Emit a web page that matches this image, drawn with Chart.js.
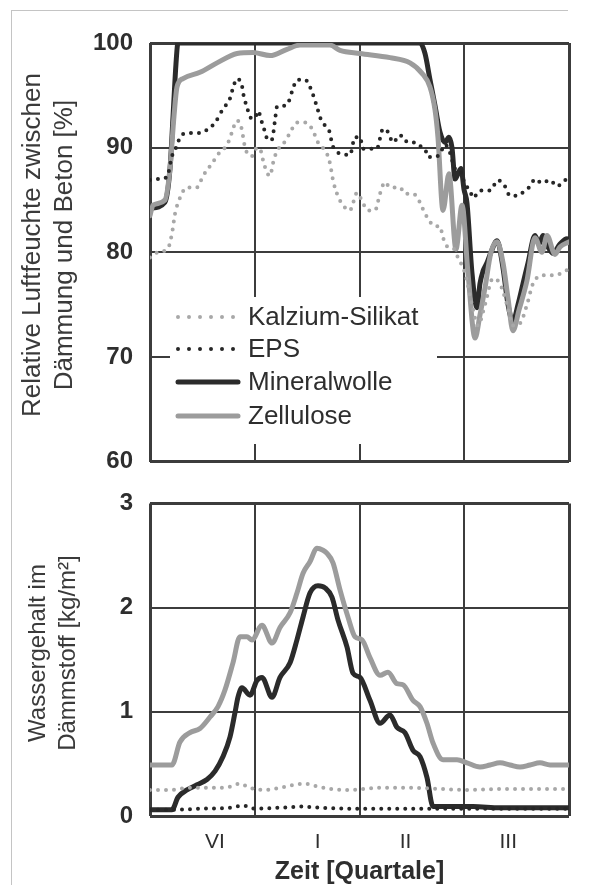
<!DOCTYPE html>
<html><head><meta charset="utf-8">
<script src="https://cdn.jsdelivr.net/npm/chart.js@4/dist/chart.umd.min.js"></script>
<style>
html,body{margin:0;padding:0;background:#fff;}
body{width:596px;height:885px;position:relative;overflow:hidden;}
#frame{position:absolute;left:11px;top:10px;width:556px;height:880px;border-left:1px solid #c4c4c4;border-top:1px solid #c4c4c4;}
canvas{position:absolute;left:0;}
#c1{top:0}
#c2{top:472px}
</style></head><body>
<div id="frame"></div>
<canvas id="c1" width="596" height="493"></canvas>
<canvas id="c2" width="596" height="413"></canvas>
<script>
// ---------- DATA ----------
const seriesNames = ['Kalzium-Silikat', 'EPS', 'Mineralwolle', 'Zellulose'];
const quarterLabels = ['VI', 'I', 'II', 'III'];
const quarterLabelAt = [0.62, 1.60, 2.44, 3.42];
const topYTicks = [60, 70, 80, 90, 100];
const bottomYTicks = [0, 1, 2, 3];

// Top panel: relative humidity [%]
const rhKalziumX = [0,.076,.172,.210,.239,.267,.353,.449,.506,.592,.668,.716,.764,.792,.831,.878,.897,.926,.974,1.021,1.050,1.079,1.117,1.146,1.174,1.212,1.260,1.308,1.356,1.403,1.480,1.547,1.604,1.690,1.718,1.747,1.785,1.842,1.909,1.938,1.976,2.033,2.081,2.148,2.196,2.243,2.291,2.387,2.434,2.501,2.549,2.597,2.654,2.721,2.768,2.797,2.845,2.893,2.940,3.007,3.074,3.131,3.198,3.274,3.341,3.408,3.465,3.532,3.599,3.656,3.752,3.866,3.981];
const rhKalziumY = [79.5,80.0,80.4,81.8,83.7,84.7,86.2,86.2,87.3,88.5,89.6,90.0,90.9,91.8,92.6,91.7,90.5,89.5,89.2,90.0,89.9,88.8,87.6,87.3,88.5,89.7,90.2,90.9,91.8,92.4,92.4,91.8,90.5,89.4,88.5,86.9,85.6,84.5,84.0,84.7,85.7,84.7,84.0,84.0,85.6,86.7,86.2,86.2,85.6,85.6,85.3,84.3,83.2,82.5,82.5,81.4,80.5,80.4,79.5,78.0,75.0,73.0,75.0,77.5,77.0,75.0,73.0,73.2,75.0,77.0,77.8,77.8,78.3];

const rhEpsX = [0,.076,.162,.210,.258,.286,.363,.477,.544,.621,.697,.764,.792,.831,.878,.897,.926,.955,1.002,1.031,1.069,1.098,1.126,1.165,1.193,1.212,1.289,1.337,1.365,1.413,1.480,1.527,1.594,1.623,1.671,1.718,1.737,1.785,1.842,1.909,1.957,2.005,2.033,2.167,2.196,2.224,2.272,2.320,2.387,2.434,2.501,2.549,2.625,2.654,2.721,2.768,2.816,2.864,2.912,2.959,3.007,3.055,3.084,3.150,3.246,3.322,3.389,3.437,3.504,3.580,3.628,3.675,3.742,3.819,3.885,3.962,4.0];
const rhEpsY = [86.9,87.0,87.2,89.2,90.2,91.0,91.4,91.4,91.7,92.4,93.7,94.7,95.7,96.6,95.9,94.8,93.9,92.9,92.8,93.5,92.4,91.5,90.7,90.8,92.6,93.9,94.0,94.7,95.7,96.5,96.5,95.8,93.9,92.9,92.1,91.4,90.4,89.6,89.4,89.3,91.0,91.0,89.9,89.9,90.9,91.8,91.5,90.5,91.2,90.6,90.6,90.2,89.9,89.1,89.1,89.4,90.3,89.5,88.0,87.8,86.5,85.9,85.2,85.9,85.9,86.9,86.3,85.4,85.4,85.9,86.3,87.0,86.6,86.9,86.3,86.9,87.0];

const rhMineralX = [0,.143,.191,.220,.248,.267,2.578,2.625,2.673,2.721,2.768,2.816,2.854,2.883,2.912,2.940,2.969,2.998,3.026,3.074,3.122,3.150,3.179,3.217,3.255,3.313,3.370,3.418,3.465,3.513,3.561,3.609,3.675,3.714,3.752,3.800,3.847,3.914,3.981,4.0];
const rhMineralY = [84.2,84.8,88,93,98,100,100,99,96.5,94,91.5,90.5,91.0,90,87,87.5,88,86,84.7,78,74.7,77,78.2,79,80,81.1,78.5,75,73.4,75,77,79,81.6,80.8,81.6,80.5,79.9,80.8,81.3,81.2];

const rhZelluloseX = [0,.029,.143,.191,.229,.258,.315,.477,.640,.831,.983,1.146,1.308,1.432,1.718,1.814,2.005,2.291,2.482,2.597,2.673,2.721,2.749,2.797,2.854,2.921,2.979,3.036,3.103,3.150,3.198,3.255,3.313,3.370,3.418,3.465,3.523,3.599,3.675,3.742,3.790,3.866,3.914,4.0];
const rhZelluloseY = [83.5,84.5,85.0,88,93,95.8,96.6,97.2,98.1,99.0,99.1,98.8,99.4,99.8,99.8,99.3,99.0,98.6,98.1,97.1,95.8,93.6,91.0,84.0,87.5,80.3,84.5,78,71.8,74,76.6,80,81,79,75.6,72.5,74.5,77.3,81.4,80.0,81.6,79.8,80.5,81];

// Bottom panel: water content [kg/m2]
const wKalziumX = [0,.191,.382,.621,.764,.859,.955,1.098,1.241,1.384,1.480,1.575,1.718,1.909,2.196,2.482,2.768,3.055,3.341,3.628,4.0];
const wKalziumY = [.25,.25,.27,.27,.28,.31,.27,.25,.27,.30,.31,.29,.26,.25,.27,.27,.26,.25,.26,.26,.26];

const wEpsX = [0,.210,.477,.764,.888,1.002,1.241,1.451,1.623,1.909,2.387,2.673,2.959,3.341,4.0];
const wEpsY = [.06,.06,.07,.08,.10,.07,.08,.09,.08,.07,.07,.07,.07,.07,.07];

const wMineralX = [0,.210,.267,.353,.449,.544,.621,.697,.764,.811,.840,.878,.955,1.021,1.069,1.165,1.241,1.337,1.403,1.461,1.527,1.604,1.671,1.737,1.795,1.881,1.938,2.005,2.100,2.196,2.291,2.358,2.434,2.511,2.578,2.644,2.702,2.835,3.084,3.341,3.628,4.0];
const wMineralY = [.06,.06,.18,.25,.30,.35,.43,.57,.76,.99,1.14,1.23,1.16,1.30,1.33,1.14,1.33,1.47,1.69,1.91,2.14,2.21,2.19,2.10,1.88,1.62,1.37,1.33,1.11,.89,.97,.85,.80,.63,.57,.37,.09,.09,.09,.08,.08,.08];

const wZelluloseX = [0,.210,.286,.382,.477,.573,.649,.716,.792,.859,.926,.974,1.069,1.165,1.241,1.337,1.403,1.461,1.527,1.594,1.652,1.690,1.747,1.814,1.890,1.957,2.024,2.100,2.196,2.272,2.358,2.415,2.511,2.578,2.644,2.702,2.797,2.931,3.026,3.150,3.246,3.341,3.437,3.532,3.628,3.723,3.819,4.0];
const wZelluloseY = [.49,.49,.71,.80,.84,.95,1.05,1.21,1.47,1.72,1.72,1.69,1.83,1.66,1.81,1.95,2.14,2.33,2.44,2.57,2.55,2.52,2.43,2.17,1.91,1.72,1.69,1.52,1.35,1.38,1.27,1.26,1.11,1.05,.89,.70,.54,.54,.51,.47,.49,.51,.49,.47,.49,.51,.49,.49];

// ---------- STYLE ----------
const FONT = "'Liberation Sans', Arial, Helvetica, sans-serif";
const INK = '#2e2e2e';
const TITLE_INK = '#3a3a3a';
const GRID = '#3c3c3c';
const LIGHT_DOT = '#a8a8a8';
const DARK_DOT = '#262626';
const LIGHT_LINE = '#9c9c9c';
const DARK_LINE = '#2b2b2b';
const LEAD = '\u00a0\u00a0';

const styles = {
  'Kalzium-Silikat': {borderColor: LIGHT_DOT, borderWidth: 4, borderDash: [0, 8], borderCapStyle: 'round'},
  'EPS': {borderColor: DARK_DOT, borderWidth: 4, borderDash: [0, 8], borderCapStyle: 'round'},
  'Mineralwolle': {borderColor: DARK_LINE, borderWidth: 5, borderCapStyle: 'round', borderJoinStyle: 'round'},
  'Zellulose': {borderColor: LIGHT_LINE, borderWidth: 5, borderCapStyle: 'round', borderJoinStyle: 'round'}
};

function pts(xs, ys) { return xs.map((x, i) => ({x: x, y: ys[i]})); }
function ds(name, xs, ys) {
  return Object.assign({label: name, data: pts(xs, ys), pointRadius: 0, fill: false,
    tension: 0.3, cubicInterpolationMode: 'monotone'}, styles[name]);
}
function edgeWidth(lo, hi) {
  return c => (c.tick && (c.tick.value === lo || c.tick.value === hi)) ? 3 : 2;
}

// datasets order: first drawn on top
const topSets = [
  ds('Kalzium-Silikat', rhKalziumX, rhKalziumY),
  ds('EPS', rhEpsX, rhEpsY),
  ds('Zellulose', rhZelluloseX, rhZelluloseY),
  ds('Mineralwolle', rhMineralX, rhMineralY)
];
const bottomSets = [
  ds('Kalzium-Silikat', wKalziumX, wKalziumY),
  ds('EPS', wEpsX, wEpsY),
  ds('Zellulose', wZelluloseX, wZelluloseY),
  ds('Mineralwolle', wMineralX, wMineralY)
];

const boxLegend = {
  id: 'boxLegend',
  afterDatasetsDraw(chart) {
    const ctx = chart.ctx;
    ctx.save();
    ctx.fillStyle = '#fff';
    ctx.fillRect(170, 297, 267, 147);
    const rows = [317, 349, 382, 416];
    seriesNames.forEach((name, i) => {
      const st = styles[name];
      const y = rows[i];
      ctx.beginPath();
      ctx.strokeStyle = st.borderColor;
      ctx.lineWidth = st.borderWidth;
      ctx.lineCap = 'round';
      if (st.borderDash) { ctx.setLineDash([0, 11]); ctx.moveTo(178, y); ctx.lineTo(236, y); }
      else { ctx.setLineDash([]); ctx.moveTo(178, y); ctx.lineTo(238, y); }
      ctx.stroke();
      ctx.setLineDash([]);
      ctx.fillStyle = INK;
      ctx.font = '26px ' + FONT;
      ctx.textBaseline = 'middle';
      ctx.textAlign = 'left';
      ctx.fillText(name, 248, y + 1);
    });
    ctx.restore();
  }
};

Chart.defaults.font.family = FONT;

new Chart(document.getElementById('c1'), {
  type: 'line',
  data: {datasets: topSets},
  options: {
    responsive: false, animation: false, devicePixelRatio: 1,
    layout: {padding: {left: 0, right: 27, top: 43, bottom: 7}},
    plugins: {legend: {display: false}, tooltip: {enabled: false}},
    scales: {
      x: {type: 'linear', min: 0, max: 4,
        ticks: {display: false, stepSize: 1},
        grid: {color: GRID, lineWidth: edgeWidth(0, 4), drawTicks: false},
        border: {display: false},
        afterFit(s) { s.height = 0; }},
      y: {type: 'linear', min: topYTicks[0], max: topYTicks[topYTicks.length - 1],
        afterBuildTicks(s) { s.ticks = topYTicks.map(v => ({value: v})); },
        ticks: {color: INK, padding: 17, font: {family: FONT, size: 24, weight: 'bold'}},
        grid: {color: GRID, lineWidth: edgeWidth(60, 100), drawTicks: false},
        border: {display: false},
        title: {display: true, text: [LEAD + 'Relative Luftfeuchte zwischen', LEAD + 'Dämmung und Beton [%]'],
          color: TITLE_INK, font: {family: FONT, size: 26, lineHeight: 1.23}, padding: {top: 17, bottom: 0}},
        afterFit(s) { s.width = 150; }}
    }
  },
  plugins: [boxLegend]
});

new Chart(document.getElementById('c2'), {
  type: 'line',
  data: {datasets: bottomSets},
  options: {
    responsive: false, animation: false, devicePixelRatio: 1,
    layout: {padding: {left: 0, right: 27, top: 15, bottom: 0}},
    plugins: {legend: {display: false}, tooltip: {enabled: false}},
    scales: {
      x: {type: 'linear', min: 0, max: 4, position: 'bottom', weight: 2,
        ticks: {display: false, stepSize: 1},
        grid: {color: GRID, lineWidth: edgeWidth(0, 4), drawTicks: false},
        border: {display: false},
        afterFit(s) { s.height = 0; }},
      xl: {type: 'linear', min: 0, max: 4, position: 'bottom', weight: 1,
        afterBuildTicks(s) { s.ticks = quarterLabelAt.map(v => ({value: v})); },
        ticks: {color: INK, padding: 14, autoSkip: false, maxRotation: 0,
          font: {family: FONT, size: 21},
          callback: (v, i) => quarterLabels[i]},
        grid: {display: false, drawTicks: false},
        border: {display: false},
        title: {display: true, text: 'Zeit [Quartale]', color: INK,
          font: {family: FONT, size: 25, weight: 'bold', lineHeight: 1.0}, padding: {top: 0, bottom: 0}},
        afterFit(s) { s.height = 69; }},
      y: {type: 'linear', min: bottomYTicks[0], max: bottomYTicks[bottomYTicks.length - 1],
        afterBuildTicks(s) { s.ticks = bottomYTicks.map(v => ({value: v})); },
        ticks: {color: INK, padding: 17, font: {family: FONT, size: 24, weight: 'bold'}},
        grid: {color: GRID, lineWidth: edgeWidth(0, 3), drawTicks: false},
        border: {display: false},
        title: {display: true, text: [LEAD + 'Wassergehalt im', LEAD + 'Dämmstoff [kg/m²]'],
          color: TITLE_INK, font: {family: FONT, size: 24, lineHeight: 1.25}, padding: {top: 23, bottom: 0}},
        afterFit(s) { s.width = 150; }}
    }
  }
});
</script>
</body></html>
